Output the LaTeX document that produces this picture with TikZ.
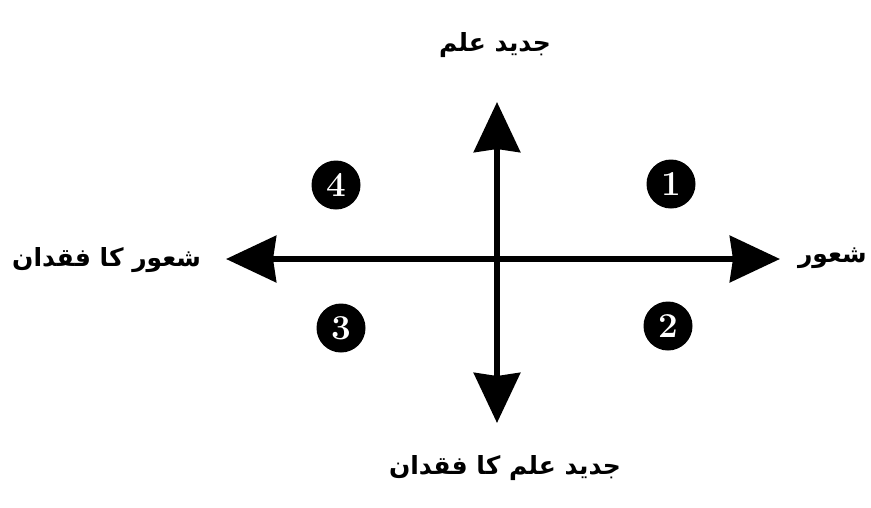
\documentclass[tikz,border=0pt]{standalone}
\usepackage{fontspec}
\usepackage{tikz}
\usetikzlibrary{arrows.meta, positioning}
\TeXXeTstate=1
\newfontfamily\urdufont[Script=Arabic]{DejaVu Sans}

\begin{document}
\begin{tikzpicture}[
    x=1pt, y=-1pt,
    axis/.style={line width=6.5pt, -{Stealth[length=50pt, width=46pt, inset=3pt]}},
    num/.style={circle, fill=black, text=white, minimum size=49pt, inner sep=0pt, font=\fontsize{35}{35}\selectfont\bfseries},
    lbl/.style={inner sep=2pt, font=\urdufont\bfseries\fontsize{25}{30}\selectfont}
]
\useasboundingbox (0,0) rectangle (871,507);

% Axes
\coordinate (o) at (497,259);
\coordinate (ntip) at (497,102);
\coordinate (stip) at (497,423);
\coordinate (wtip) at (226,259);
\coordinate (etip) at (780,259);
\draw[axis] (o) -- (ntip);
\draw[axis] (o) -- (stip);
\draw[axis] (o) -- (wtip);
\draw[axis] (o) -- (etip);

% Axis labels
\node[lbl] (know) at (495,45) {\beginR جدید علم\endR};
\node[lbl] (noknow) at (505,468) {\beginR جدید علم کا فقدان\endR};
\node[lbl, anchor=east] (aware) at (869,258) {\beginR شعور\endR};
\node[lbl, anchor=west] (noaware) at (10,260) {\beginR شعور کا فقدان\endR};

% Quadrants
\node[num] (q1) at (671,184) {1};
\node[num] (q2) at (668,326) {2};
\node[num] (q3) at (341,328) {3};
\node[num] (q4) at (336,185) {4};
\end{tikzpicture}
\end{document}
